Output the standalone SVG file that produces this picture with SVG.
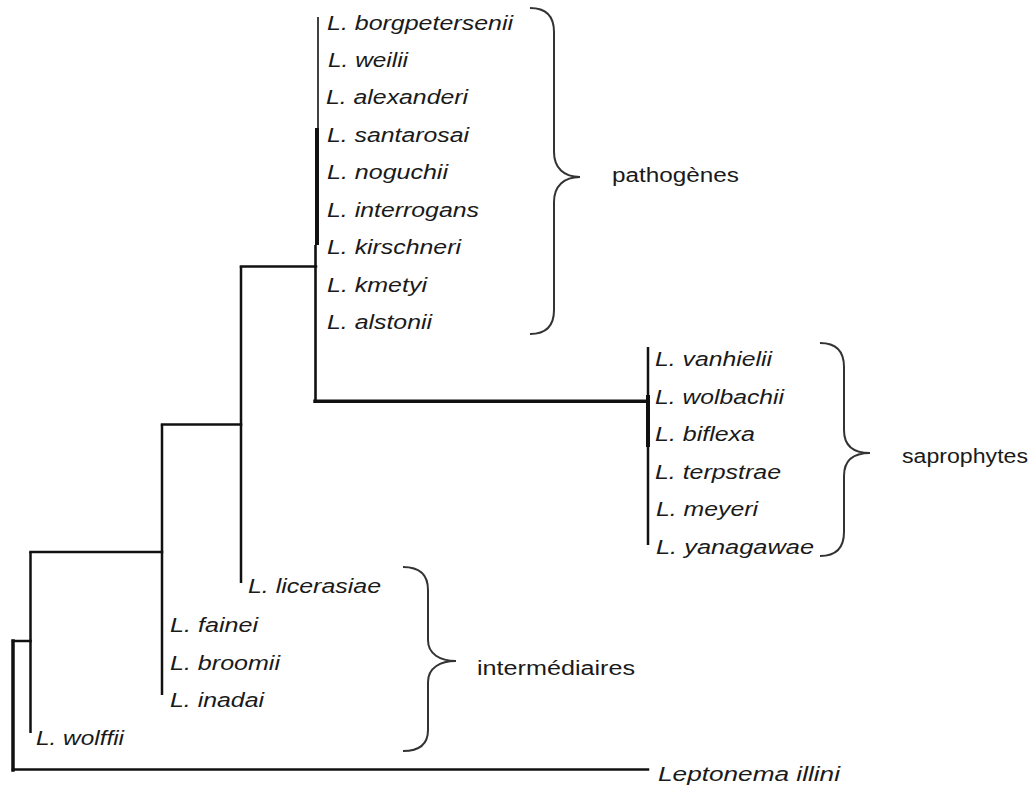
<svg xmlns="http://www.w3.org/2000/svg" width="1032" height="787" viewBox="0 0 1032 787">
<style>
.sp{font-family:"Liberation Sans",Arial,sans-serif;font-style:italic;font-size:20px;fill:#1a1a1a}
.grp{font-family:"Liberation Sans",Arial,sans-serif;font-size:20px;fill:#1a1a1a}
.br{fill:none;stroke:#333;stroke-width:2}
.ln{fill:none;stroke:#111;stroke-width:2.5;stroke-linecap:square}
</style>
<rect width="1032" height="787" fill="#fff"/>
<g id="connectors">
<path class="ln" d="M318,17 V128" style="stroke-width:1.6;stroke-linecap:butt"/>
<path class="ln" d="M317,128 V245" style="stroke-width:4;stroke-linecap:butt"/>
<path class="ln" d="M315.5,245 V401" style="stroke-width:2.6;stroke-linecap:butt"/>
<path class="ln" d="M241,266.5 H316"/>
<path class="ln" d="M315,401.2 H648" style="stroke-width:3.5"/>
<path class="ln" d="M648,347 V545" style="stroke-linecap:butt"/>
<path class="ln" d="M648,395 V447" style="stroke-width:4;stroke-linecap:butt"/>
<path class="ln" d="M241,266 V583" style="stroke-linecap:butt"/>
<path class="ln" d="M162,424.5 H241"/>
<path class="ln" d="M162,424.5 V695" style="stroke-linecap:butt"/>
<path class="ln" d="M30.5,552 H162"/>
<path class="ln" d="M30.5,552 V733" style="stroke-linecap:butt"/>
<path class="ln" d="M13,641 H30.5"/>
<path class="ln" d="M13,641 V770" style="stroke-width:3.5"/>
<path class="ln" d="M13,769.5 H648"/>
</g>
<g id="node-pathogenes">
<text class="sp" x="327" y="30" textLength="186" lengthAdjust="spacingAndGlyphs">L. borgpetersenii</text>
<text class="sp" x="328" y="67" textLength="80" lengthAdjust="spacingAndGlyphs">L. weilii</text>
<text class="sp" x="326" y="104" textLength="142" lengthAdjust="spacingAndGlyphs">L. alexanderi</text>
<text class="sp" x="327" y="141.5" textLength="142" lengthAdjust="spacingAndGlyphs">L. santarosai</text>
<text class="sp" x="327" y="179" textLength="121" lengthAdjust="spacingAndGlyphs">L. noguchii</text>
<text class="sp" x="327" y="216.5" textLength="152" lengthAdjust="spacingAndGlyphs">L. interrogans</text>
<text class="sp" x="327" y="254" textLength="134" lengthAdjust="spacingAndGlyphs">L. kirschneri</text>
<text class="sp" x="327" y="291.5" textLength="100" lengthAdjust="spacingAndGlyphs">L. kmetyi</text>
<text class="sp" x="327" y="329" textLength="105" lengthAdjust="spacingAndGlyphs">L. alstonii</text>
<path class="br" d="M530,8 C546,8 554,16 554,32 V152 C554,168 564,177 580,177 C564,177 554,186 554,202 V310 C554,326 546,334 530,334"/>
<text class="grp" x="612" y="182" textLength="127" lengthAdjust="spacingAndGlyphs">pathogènes</text>
</g>
<g id="node-saprophytes">
<text class="sp" x="655" y="366" textLength="117" lengthAdjust="spacingAndGlyphs">L. vanhielii</text>
<text class="sp" x="655" y="403.5" textLength="129" lengthAdjust="spacingAndGlyphs">L. wolbachii</text>
<text class="sp" x="655" y="441" textLength="100" lengthAdjust="spacingAndGlyphs">L. biflexa</text>
<text class="sp" x="655" y="478.5" textLength="126" lengthAdjust="spacingAndGlyphs">L. terpstrae</text>
<text class="sp" x="656" y="516" textLength="102" lengthAdjust="spacingAndGlyphs">L. meyeri</text>
<text class="sp" x="656" y="553.5" textLength="158" lengthAdjust="spacingAndGlyphs">L. yanagawae</text>
<path class="br" d="M820,343 C836,343 844,351 844,367 V430 C844,446 854,453 870,453 C854,453 844,460 844,476 V532 C844,548 836,556 820,556"/>
<text class="grp" x="902" y="463" textLength="126" lengthAdjust="spacingAndGlyphs">saprophytes</text>
</g>
<g id="node-intermediaires">
<text class="sp" x="248" y="593" textLength="133" lengthAdjust="spacingAndGlyphs">L. licerasiae</text>
<text class="sp" x="170" y="632" textLength="88" lengthAdjust="spacingAndGlyphs">L. fainei</text>
<text class="sp" x="170" y="670" textLength="110" lengthAdjust="spacingAndGlyphs">L. broomii</text>
<text class="sp" x="170" y="707" textLength="94" lengthAdjust="spacingAndGlyphs">L. inadai</text>
<path class="br" d="M403,567 C419,567 428,574 428,590 V640 C428,654 440,661 456,661 C440,661 428,668 428,682 V730 C428,745 419,751 403,751"/>
<text class="grp" x="477" y="675" textLength="158" lengthAdjust="spacingAndGlyphs">intermédiaires</text>
</g>
<g id="node-wolffii">
<text class="sp" x="36" y="745" textLength="88" lengthAdjust="spacingAndGlyphs">L. wolffii</text>
</g>
<g id="node-leptonema">
<text class="sp" x="658" y="781" textLength="182" lengthAdjust="spacingAndGlyphs">Leptonema illini</text>
</g>
</svg>
